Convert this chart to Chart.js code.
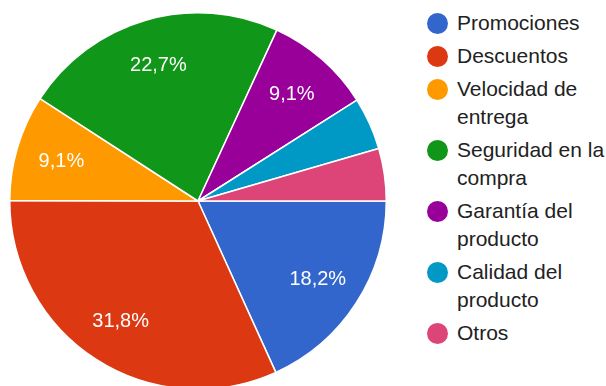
<!DOCTYPE html>
<html>
<head>
<meta charset="utf-8">
<script src="https://cdn.jsdelivr.net/npm/chart.js@4/dist/chart.umd.min.js"></script>
<style>
    html, body { margin: 0; padding: 0; background: #fff; overflow: hidden; }
    body { width: 606px; height: 386px; position: relative; font-family: Arial, "Liberation Sans", sans-serif; }
    #pie { position: absolute; left: 9px; top: 12px; }
    #legend { position: absolute; left: 427px; top: 9px; width: 180px; }
    .item { display: flex; align-items: flex-start; margin-bottom: 5px; }
    .dot { width: 21px; height: 21px; border-radius: 50%; flex: none; margin-top: 4px; }
    .txt { width: 149px; margin-left: 9px; font-size: 21px; line-height: 28px; color: #222; }
</style>
</head>
<body>
<canvas id="pie" width="378" height="378"></canvas>
<div id="legend"></div>
<script>
const labels = ["Promociones", "Descuentos", "Velocidad de entrega", "Seguridad en la compra",
                "Garantía del producto", "Calidad del producto", "Otros"];
const percents = [18.2, 31.8, 9.1, 22.7, 9.1, 4.5, 4.5];
const colors = ["#3366cc", "#dc3912", "#ff9900", "#109618", "#990099", "#0099c6", "#dd4477"];

// percent text inside each slice, skipped for the thin ones
const sliceLabels = {
    id: "sliceLabels",
    afterDatasetsDraw(chart) {
        const ctx = chart.ctx;
        const meta = chart.getDatasetMeta(0);
        ctx.save();
        ctx.fillStyle = "#fff";
        ctx.font = "20px Arial, 'Liberation Sans', sans-serif";
        ctx.textAlign = "center";
        ctx.textBaseline = "middle";
        meta.data.forEach((arc, i) => {
            const v = percents[i];
            if (v < 5) return;
            const p = arc.getProps(["x", "y", "startAngle", "endAngle", "outerRadius"], true);
            const mid = (p.startAngle + p.endAngle) / 2;
            const r = p.outerRadius * 0.757;
            ctx.fillText(v.toFixed(1).replace(".", ",") + "%", p.x + Math.cos(mid) * r, p.y + Math.sin(mid) * r + 1);
        });
        ctx.restore();
    }
};

const chart = new Chart(document.getElementById("pie"), {
    type: "pie",
    data: {
        labels: labels,
        datasets: [{
            data: percents,
            backgroundColor: colors,
            borderColor: "#fff",
            borderWidth: 1.5
        }]
    },
    options: {
        responsive: false,
        animation: false,
        rotation: 90,
        layout: { padding: 0 },
        plugins: {
            legend: { display: false },
            tooltip: { enabled: false }
        }
    },
    plugins: [sliceLabels]
});

// legend on the right, wraps long names
const legend = document.getElementById("legend");
labels.forEach((name, i) => {
    const item = document.createElement("div");
    item.className = "item";
    const dot = document.createElement("div");
    dot.className = "dot";
    dot.style.background = colors[i];
    const txt = document.createElement("div");
    txt.className = "txt";
    txt.textContent = name;
    item.appendChild(dot);
    item.appendChild(txt);
    legend.appendChild(item);
});
</script>
</body>
</html>
